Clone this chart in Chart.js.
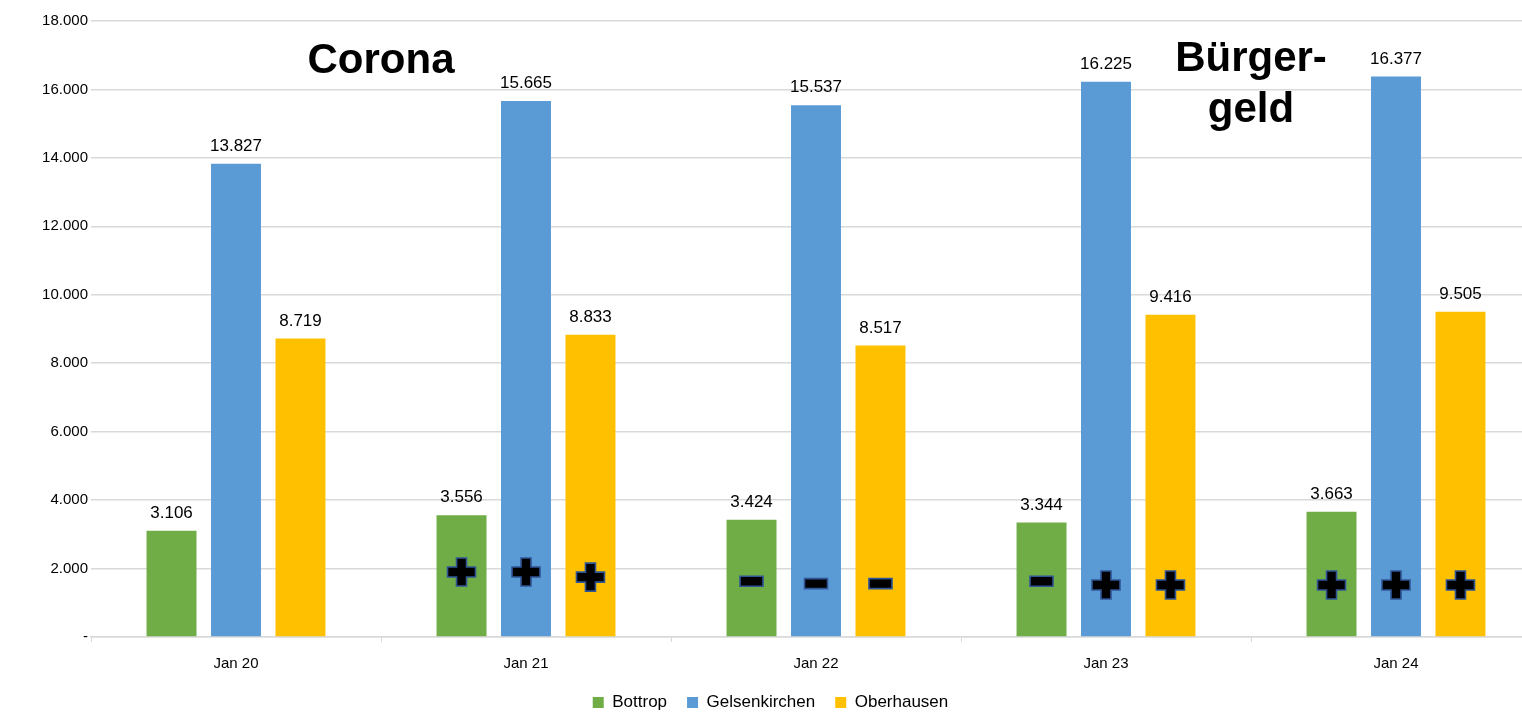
<!DOCTYPE html>
<html>
<head>
<meta charset="utf-8">
<script src="https://cdn.jsdelivr.net/npm/chart.js@4"></script>
<style>
  html, body { margin: 0; padding: 0; background: #fff; overflow: hidden; }
  #wrap { width: 1522px; height: 712px; overflow: hidden; }
  #box { width: 1572px; height: 712px; }
</style>
</head>
<body>
<div id="wrap"><div id="box"><canvas id="chart"></canvas></div></div>
<script>
const categories = ['Jan 20', 'Jan 21', 'Jan 22', 'Jan 23', 'Jan 24'];
const bottrop = [3106, 3556, 3424, 3344, 3663];
const gelsenkirchen = [13827, 15665, 15537, 16225, 16377];
const oberhausen = [8719, 8833, 8517, 9416, 9505];

// change vs. previous year, drawn inside the bars
const bottropSigns = [null, '+', '-', '-', '+'];
const gelsenkirchenSigns = [null, '+', '-', '+', '+'];
const oberhausenSigns = [null, '+', '-', '+', '+'];
const bottropSignAt = [null, 1900, 1630, 1630, 1520];
const gelsenkirchenSignAt = [null, 1900, 1560, 1520, 1520];
const oberhausenSignAt = [null, 1750, 1560, 1520, 1520];

const fmt = (v) => v === 0 ? '-' : v.toLocaleString('de-DE');
const FONT = '"Liberation Sans", Arial, sans-serif';

const barLabels = {
    id: 'barLabels',
    afterDatasetsDraw(chart) {
        const ctx = chart.ctx;
        const y = chart.scales.y;
        ctx.save();
        ctx.font = '17px ' + FONT;
        ctx.fillStyle = '#000';
        ctx.textAlign = 'center';
        ctx.textBaseline = 'bottom';
        chart.data.datasets.forEach((ds, i) => {
            chart.getDatasetMeta(i).data.forEach((bar, j) => {
                ctx.fillText(fmt(ds.data[j]), bar.x, bar.y - 9);
            });
        });

        // plus / minus markers
        chart.data.datasets.forEach((ds, i) => {
            chart.getDatasetMeta(i).data.forEach((bar, j) => {
                const s = ds.signs[j];
                if (!s) return;
                const cx = bar.x, cy = y.getPixelForValue(ds.signAt[j]);
                ctx.beginPath();
                if (s === '+') {
                    const a = 14, t = 5;
                    ctx.moveTo(cx - t, cy - a); ctx.lineTo(cx + t, cy - a);
                    ctx.lineTo(cx + t, cy - t); ctx.lineTo(cx + a, cy - t);
                    ctx.lineTo(cx + a, cy + t); ctx.lineTo(cx + t, cy + t);
                    ctx.lineTo(cx + t, cy + a); ctx.lineTo(cx - t, cy + a);
                    ctx.lineTo(cx - t, cy + t); ctx.lineTo(cx - a, cy + t);
                    ctx.lineTo(cx - a, cy - t); ctx.lineTo(cx - t, cy - t);
                    ctx.closePath();
                } else {
                    ctx.rect(cx - 11.5, cy - 5, 23, 10);
                }
                ctx.fillStyle = '#000';
                ctx.fill();
                ctx.lineWidth = 1.6;
                ctx.strokeStyle = '#2F5597';
                ctx.stroke();
            });
        });

        // headings
        const x = chart.scales.x;
        const half = (x.getPixelForValue(1) - x.getPixelForValue(0)) / 2;
        ctx.font = 'bold 42px ' + FONT;
        ctx.textBaseline = 'alphabetic';
        ctx.fillText('Corona', x.getPixelForValue(0) + half, y.getPixelForValue(16480));
        ctx.fillText('Bürger-', x.getPixelForValue(3) + half, y.getPixelForValue(16540));
        ctx.fillText('geld', x.getPixelForValue(3) + half, y.getPixelForValue(15040));
        ctx.restore();
    }
};

new Chart(document.getElementById('chart').getContext('2d'), {
    type: 'bar',
    data: {
        labels: categories,
        datasets: [
            { label: 'Bottrop', data: bottrop, signs: bottropSigns, signAt: bottropSignAt, backgroundColor: '#70AD47' },
            { label: 'Gelsenkirchen', data: gelsenkirchen, signs: gelsenkirchenSigns, signAt: gelsenkirchenSignAt, backgroundColor: '#5B9BD5' },
            { label: 'Oberhausen', data: oberhausen, signs: oberhausenSigns, signAt: oberhausenSignAt, backgroundColor: '#FFC000' },
        ],
    },
    options: {
        responsive: true,
        maintainAspectRatio: false,
        animation: false,
        categoryPercentage: 0.667,
        barPercentage: 0.775,
        layout: { padding: { top: 21, left: 0, right: 31, bottom: -9 } },
        plugins: {
            legend: {
                position: 'bottom',
                labels: {
                    boxWidth: 11,
                    boxHeight: 11,
                    padding: 20,
                    color: '#000',
                    font: { family: FONT, size: 17 },
                },
            },
            tooltip: { enabled: false },
        },
        scales: {
            x: {
                grid: { display: true, drawOnChartArea: false, drawTicks: true, tickLength: 5, color: '#D9D9D9', offset: true },
                border: { color: '#D9D9D9', width: 1.5 },
                ticks: { color: '#000', padding: 13, font: { family: FONT, size: 15 } },
                afterFit(scale) {
                    scale.height = 712 + 9 - 637 - scale.chart.legend.height;
                },
            },
            y: {
                min: 0,
                max: 18000,
                ticks: {
                    stepSize: 2000,
                    color: '#000',
                    padding: 3,
                    font: { family: FONT, size: 15 },
                    callback: (v) => fmt(v),
                },
                grid: { color: '#D9D9D9', lineWidth: 1.5, drawTicks: false },
                border: { display: false },
                afterFit(scale) { scale.width = 91; },
            },
        },
    },
    plugins: [barLabels],
});
</script>
</body>
</html>
